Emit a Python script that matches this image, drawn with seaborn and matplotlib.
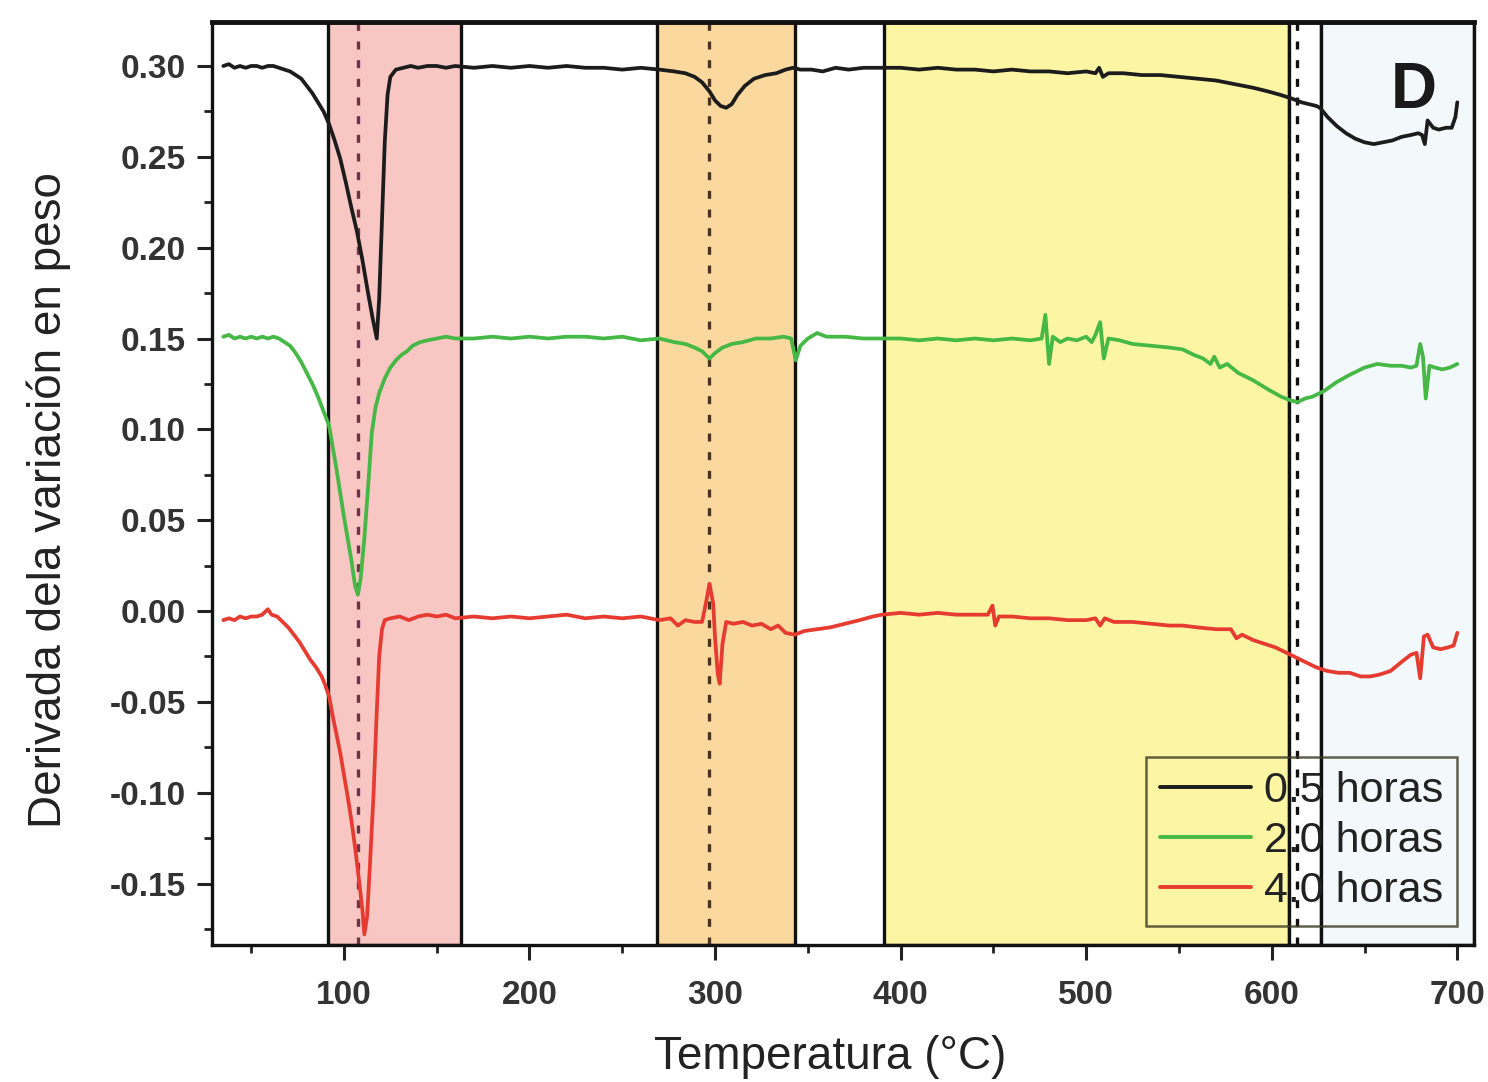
import matplotlib
matplotlib.use("Agg")
import matplotlib.pyplot as plt
import seaborn as sns
import pandas as pd
from matplotlib.ticker import MultipleLocator

# ---------------- data ----------------
series_labels = ["0.5 horas", "2.0 horas", "4.0 horas"]

temp_05 = [35, 38, 41, 44, 47, 50, 53, 56, 59, 62, 65, 68, 71, 74, 77, 80, 83, 86, 89, 92, 95, 98, 101, 104,
           107, 110, 113, 115.5, 117.7, 119, 120.5, 122, 123.5, 125, 128, 132, 136, 140, 145, 150, 155, 160,
           170, 180, 190, 200, 210, 220, 230, 240, 250, 260, 270, 278, 284, 289, 293, 297, 300, 303, 306, 309,
           312, 316, 321, 327, 333, 338, 342, 346, 352, 358, 365, 372, 380, 390, 400, 410, 420, 430, 440, 450,
           460, 470, 480, 490, 500, 505, 507, 509, 512, 520, 530, 540, 550, 560, 570, 580, 590, 598, 605, 611,
           616, 620, 624, 626, 630, 635, 640, 645, 650, 655, 660, 665, 670, 675, 679, 681, 682.5, 684, 687, 690,
           694, 697, 699, 700]
deriv_05 = [0.300, 0.301, 0.299, 0.300, 0.299, 0.300, 0.300, 0.299, 0.300, 0.300, 0.299, 0.298, 0.297, 0.295,
            0.293, 0.289, 0.285, 0.280, 0.275, 0.268, 0.259, 0.249, 0.236, 0.222, 0.209, 0.193, 0.175, 0.161,
            0.150, 0.172, 0.215, 0.258, 0.284, 0.294, 0.298, 0.299, 0.300, 0.299, 0.300, 0.300, 0.299, 0.300,
            0.299, 0.300, 0.299, 0.300, 0.299, 0.300, 0.299, 0.299, 0.298, 0.299, 0.298, 0.297, 0.296, 0.294,
            0.291, 0.286, 0.281, 0.278, 0.277, 0.279, 0.284, 0.289, 0.293, 0.295, 0.296, 0.298, 0.299, 0.298,
            0.298, 0.297, 0.299, 0.298, 0.299, 0.299, 0.299, 0.298, 0.299, 0.298, 0.298, 0.297, 0.298, 0.297,
            0.297, 0.296, 0.297, 0.296, 0.299, 0.294, 0.296, 0.296, 0.295, 0.295, 0.294, 0.293, 0.292, 0.290,
            0.288, 0.286, 0.284, 0.282, 0.280, 0.279, 0.278, 0.277, 0.272, 0.267, 0.263, 0.260, 0.258, 0.257,
            0.258, 0.259, 0.261, 0.262, 0.263, 0.262, 0.257, 0.270, 0.266, 0.265, 0.266, 0.266, 0.272, 0.280]

temp_20 = [35, 38, 41, 44, 47, 50, 53, 56, 59, 62, 65, 68, 71, 74, 77, 80, 83, 86, 89, 92, 94, 96, 98, 100,
           102, 104, 106, 107.5, 109, 111, 113, 115, 117, 119, 122, 125, 128, 131, 134, 137, 141, 145, 150,
           155, 160, 170, 180, 190, 200, 210, 220, 230, 240, 250, 260, 270, 278, 284, 289, 293, 297, 300, 304,
           309, 315, 322, 330, 337, 341, 343.5, 346, 350, 355, 360, 370, 380, 390, 400, 410, 420, 430, 440,
           450, 460, 470, 476, 478, 480, 482, 486, 490, 495, 500, 503, 505, 507.5, 509.5, 512, 518, 525, 535,
           545, 552, 558, 563, 567, 569, 572, 576, 582, 590, 598, 605, 610, 614, 618, 622, 628, 635, 642, 650,
           657, 664, 670, 675, 678, 680, 681.5, 683, 685, 688, 692, 696, 700]
deriv_20 = [0.151, 0.152, 0.150, 0.151, 0.150, 0.151, 0.150, 0.151, 0.150, 0.151, 0.150, 0.148, 0.146, 0.142,
            0.137, 0.131, 0.125, 0.118, 0.110, 0.102, 0.090, 0.078, 0.065, 0.052, 0.040, 0.028, 0.014, 0.009,
            0.018, 0.040, 0.068, 0.098, 0.112, 0.120, 0.128, 0.134, 0.138, 0.141, 0.143, 0.146, 0.148, 0.149,
            0.150, 0.151, 0.150, 0.150, 0.151, 0.150, 0.151, 0.150, 0.151, 0.151, 0.150, 0.151, 0.149, 0.150,
            0.148, 0.147, 0.145, 0.143, 0.139, 0.142, 0.145, 0.147, 0.148, 0.150, 0.150, 0.151, 0.150, 0.138,
            0.146, 0.150, 0.153, 0.151, 0.151, 0.150, 0.150, 0.150, 0.149, 0.150, 0.149, 0.150, 0.149, 0.150,
            0.149, 0.150, 0.163, 0.136, 0.151, 0.148, 0.150, 0.149, 0.151, 0.148, 0.152, 0.159, 0.139, 0.150,
            0.149, 0.147, 0.146, 0.145, 0.144, 0.141, 0.139, 0.136, 0.140, 0.134, 0.136, 0.131, 0.127, 0.122,
            0.118, 0.116, 0.115, 0.117, 0.118, 0.121, 0.126, 0.130, 0.134, 0.136, 0.135, 0.135, 0.134, 0.135,
            0.147, 0.140, 0.117, 0.135, 0.134, 0.133, 0.134, 0.136]

temp_40 = [35, 38, 41, 44, 47, 50, 53, 56, 59, 61, 64, 67, 70, 73, 76, 79, 82, 85, 88, 90, 92, 94, 96, 98,
           100, 102, 104, 106, 108, 110, 111, 112.5, 114, 116, 117.5, 119, 120.5, 122, 125, 130, 135, 140, 145,
           150, 155, 160, 170, 180, 190, 200, 210, 220, 230, 240, 250, 260, 270, 276, 280, 284, 289, 293, 295,
           297, 299, 300, 301.5, 302.5, 304, 306, 310, 315, 320, 325, 330, 334, 338, 343, 348, 355, 362, 370,
           378, 385, 390, 400, 410, 420, 430, 440, 447, 449.5, 451, 453, 460, 470, 480, 490, 500, 505, 507.5,
           510, 515, 525, 535, 545, 552, 560, 570, 578, 581, 584, 590, 596, 602, 608, 612, 618, 624, 630, 636,
           642, 648, 653, 658, 664, 670, 675, 678, 680, 682, 684, 687, 691, 695, 698, 700]
deriv_40 = [-0.005, -0.004, -0.005, -0.003, -0.004, -0.003, -0.003, -0.002, 0.001, -0.002, -0.003, -0.006,
            -0.009, -0.013, -0.017, -0.022, -0.027, -0.031, -0.036, -0.041, -0.047, -0.058, -0.068, -0.078,
            -0.090, -0.102, -0.115, -0.130, -0.147, -0.165, -0.178, -0.168, -0.140, -0.100, -0.060, -0.025,
            -0.010, -0.005, -0.004, -0.003, -0.005, -0.003, -0.002, -0.003, -0.002, -0.004, -0.003, -0.004,
            -0.003, -0.004, -0.003, -0.002, -0.004, -0.003, -0.004, -0.003, -0.005, -0.004, -0.008, -0.005,
            -0.006, -0.006, 0.004, 0.015, 0.004, -0.015, -0.035, -0.040, -0.018, -0.006, -0.007, -0.006,
            -0.008, -0.007, -0.010, -0.008, -0.012, -0.013, -0.011, -0.010, -0.009, -0.007, -0.005, -0.003,
            -0.002, -0.001, -0.002, -0.001, -0.002, -0.002, -0.002, 0.003, -0.008, -0.003, -0.003, -0.004,
            -0.004, -0.005, -0.005, -0.004, -0.008, -0.004, -0.006, -0.006, -0.007, -0.008, -0.008, -0.009,
            -0.010, -0.010, -0.015, -0.013, -0.016, -0.018, -0.020, -0.023, -0.025, -0.028, -0.031, -0.033,
            -0.034, -0.034, -0.036, -0.036, -0.035, -0.033, -0.028, -0.024, -0.023, -0.037, -0.014, -0.013,
            -0.020, -0.021, -0.020, -0.019, -0.012]

# shaded temperature regions (start, end) and marker temperatures
region_bounds = [(91.4, 163.0), (268.6, 342.9), (390.8, 609.4), (609.4, 626.7), (626.7, 709.0)]
marker_temps = [107.5, 296.5, 613.7]

x_ticks = [100, 200, 300, 400, 500, 600, 700]
y_ticks = [-0.15, -0.10, -0.05, 0.00, 0.05, 0.10, 0.15, 0.20, 0.25, 0.30]

# ---------------- build table ----------------
frames = []
for lab, t, d in zip(series_labels, [temp_05, temp_20, temp_40], [deriv_05, deriv_20, deriv_40]):
    frames.append(pd.DataFrame({"T": t, "D": d, "serie": lab}))
df = pd.concat(frames, ignore_index=True)

# ---------------- style ----------------
sns.set_theme(style="ticks")
plt.rcParams["font.family"] = ["Liberation Sans", "DejaVu Sans"]

fig = plt.figure(figsize=(14.88, 10.82), dpi=100)
ax = fig.add_axes([212 / 1488, 1 - 945 / 1082, (1474 - 212) / 1488, (945 - 22) / 1082])

region_colors = ["#f8c6c3", "#fbd99e", "#fcf6a4", "#ffffff", "#f3f8fb"]
for (a, b), c in zip(region_bounds, region_colors):
    ax.axvspan(a, b, facecolor=c, edgecolor="#111111", lw=2.4, zorder=0)

marker_colors = ["#6e3344", "#4a3322", "#111111"]
for t, c in zip(marker_temps, marker_colors):
    ax.axvline(t, color=c, lw=2.4, ls=(0, (2.4, 3.2)), zorder=1)

palette = {"0.5 horas": "#1c1c1c", "2.0 horas": "#45b845", "4.0 horas": "#e63b30"}
sns.lineplot(data=df, x="T", y="D", hue="serie", palette=palette, estimator=None,
             sort=False, lw=2.7, ax=ax, zorder=3)

ax.set_xlim(28.9, 709.0)
ax.set_ylim(-0.1838, 0.3242)
ax.set_xticks(x_ticks)
ax.set_yticks(y_ticks)
ax.set_yticklabels([f"{v:.2f}" for v in y_ticks])
ax.xaxis.set_minor_locator(MultipleLocator(50))
ax.yaxis.set_minor_locator(MultipleLocator(0.025))
ax.tick_params(axis="both", which="major", direction="out", length=11, width=2.2,
               labelsize=24, colors="#222222")
ax.tick_params(axis="x", which="major", pad=14)
ax.tick_params(axis="y", which="major", pad=8)
ax.tick_params(axis="both", which="minor", direction="out", length=6, width=2.0, colors="#222222")
for lab in ax.get_xticklabels() + ax.get_yticklabels():
    lab.set_fontweight("bold")
    lab.set_color("#333333")

for side in ["left", "bottom", "right"]:
    ax.spines[side].set_linewidth(2.4)
    ax.spines[side].set_color("#111111")
ax.spines["top"].set_linewidth(3.5)
ax.spines["top"].set_color("#111111")

ax.set_xlabel("Temperatura (°C)", fontsize=33, color="#222222")
ax.xaxis.set_label_coords(0.49, -0.097)
ax.set_ylabel("Derivada dela variación en peso", fontsize=33, color="#222222")
ax.yaxis.set_label_coords(-0.112, 0.482)

ax.text(0.952, 0.925, "D", transform=ax.transAxes, fontsize=46, fontweight="bold",
        color="#1a1a1a", ha="center", va="center", zorder=5)

handles, labels = ax.get_legend_handles_labels()
leg = ax.legend(handles, labels, loc="lower right", bbox_to_anchor=(0.9865, 0.021),
                borderaxespad=0, fontsize=31, frameon=True, fancybox=False,
                handlelength=2.1, handletextpad=0.3, labelspacing=0.24, borderpad=0.33)
leg.get_frame().set_edgecolor("#3a3a22")
leg.get_frame().set_linewidth(1.8)
leg.get_frame().set_facecolor("none")
for line in leg.get_lines():
    line.set_linewidth(2.8)
for txt in leg.get_texts():
    txt.set_color("#222222")

fig.savefig("out.png", dpi=100)
